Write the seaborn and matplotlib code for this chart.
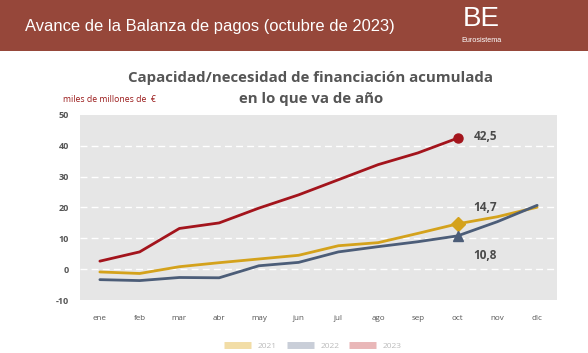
import matplotlib
matplotlib.use("Agg")
import matplotlib.pyplot as plt
import seaborn as sns
import pandas as pd
from matplotlib.patches import Rectangle
from matplotlib.lines import Line2D

months = ["ene", "feb", "mar", "abr", "may", "jun", "jul", "ago", "sep", "oct", "nov", "dic"]
y2021 = [-0.9, -1.4, 0.8, 2.1, 3.3, 4.5, 7.6, 8.6, 11.6, 14.7, 17.0, 20.1]
y2022 = [-3.4, -3.7, -2.7, -2.8, 1.1, 2.2, 5.6, 7.3, 8.9, 10.8, 15.4, 20.7]
y2023 = [2.6, 5.6, 13.2, 15.0, 19.8, 24.1, 29.0, 33.9, 37.7, 42.5]
series_names = ["2021", "2022", "2023"]
yticks = [-10, 0, 10, 20, 30, 40, 50]
labels_end = ["14,7", "10,8", "42,5"]

colors = {"2021": "#D4A21C", "2022": "#4C5D78", "2023": "#A3141C"}
light = {"2021": "#F2DDA6", "2022": "#C9CED8", "2023": "#E9B7B8"}

rows = []
for name, vals in zip(series_names, [y2021, y2022, y2023]):
    for i, v in enumerate(vals):
        rows.append({"mes": months[i], "idx": i, "valor": v, "serie": name})
df = pd.DataFrame(rows)

sns.set_theme(style="white")
plt.rcParams["font.family"] = ["Open Sans", "DejaVu Sans"]

fig = plt.figure(figsize=(5.88, 3.53), dpi=100)
fig.patch.set_facecolor("white")

# header band
fig.patches.append(Rectangle((0, 1 - 51 / 353), 1, 51 / 353, transform=fig.transFigure,
                             facecolor="#96473A", edgecolor="none", zorder=0))
fig.text(25 / 588, 1 - 26 / 353, "Avance de la Balanza de pagos (octubre de 2023)",
         color="white", fontsize=11.9, family=["Liberation Sans", "DejaVu Sans"],
         va="center", ha="left")
fig.text(481 / 588, 1 - 19 / 353, "BE", color="white", fontsize=20,
         family=["Liberation Sans", "DejaVu Sans"], va="center", ha="center")
fig.text(481 / 588, 1 - 40 / 353, "Eurosistema", color="white", fontsize=5.2,
         family=["Liberation Sans", "DejaVu Sans"], va="center", ha="center")

fig.text(311 / 588, 1 - 78 / 353, "Capacidad/necesidad de financiación acumulada",
         color="#555555", fontsize=10.8, fontweight="bold", ha="center", va="center")
fig.text(311 / 588, 1 - 99 / 353, "en lo que va de año",
         color="#555555", fontsize=10.8, fontweight="bold", ha="center", va="center")
fig.text(63 / 588, 1 - 100 / 353, "miles de millones de  €", color="#9A1A1A",
         fontsize=6.2, ha="left", va="center")

ax = fig.add_axes([80 / 588, 53 / 353, 477 / 588, 185 / 353])
ax.set_facecolor("#E6E6E6")

sns.lineplot(data=df, x="idx", y="valor", hue="serie", palette=colors, ax=ax,
             linewidth=2.0, legend=False, sort=False)

# end markers
markers = {"2021": "D", "2022": "^", "2023": "o"}
msizes = {"2021": 7, "2022": 7, "2023": 6.5}
for name, vals in zip(series_names, [y2021, y2022, y2023]):
    ax.plot(9, vals[9], marker=markers[name], color=colors[name], markersize=msizes[name],
            markeredgecolor=colors[name], zorder=5, linestyle="none")

ax.text(9.4, y2023[9] + 0.6, labels_end[2], color="#4A4A4A", fontsize=8.5, fontweight="bold",
        va="center", ha="left")
ax.text(9.4, 20.0, labels_end[0], color="#4A4A4A", fontsize=8.5, fontweight="bold",
        va="center", ha="left")
ax.text(9.4, 4.5, labels_end[1], color="#4A4A4A", fontsize=8.5, fontweight="bold",
        va="center", ha="left")

ax.set_xlim(-0.5, 11.5)
ax.set_ylim(-10, 50)
ax.set_yticks(yticks)
ax.set_yticklabels([str(t) for t in yticks], color="#555555", fontsize=6.5, fontweight="bold")
ax.set_xticks(range(12))
ax.set_xticklabels(months, color="#555555", fontsize=5.8)
ax.tick_params(axis="x", length=0, pad=11)
ax.tick_params(axis="y", length=0, pad=8)
for s in ax.spines.values():
    s.set_visible(False)
ax.grid(False)
for t in [0, 10, 20, 30, 40]:
    ax.axhline(t, color="white", linestyle=(0, (5, 3)), linewidth=1.0, zorder=1)
ax.set_xlabel("")
ax.set_ylabel("")

handles = [Line2D([0], [0], color=light[n], linewidth=5, solid_capstyle="butt")
           for n in series_names]
fig.legend(handles, series_names, loc="lower center", bbox_to_anchor=(313 / 588, -2 / 353),
           ncol=3, frameon=False, fontsize=6, handlelength=3.2, columnspacing=1.2,
           labelcolor="#BBBBBB", borderpad=0.1)

fig.savefig("out.png", dpi=100, facecolor="white")
